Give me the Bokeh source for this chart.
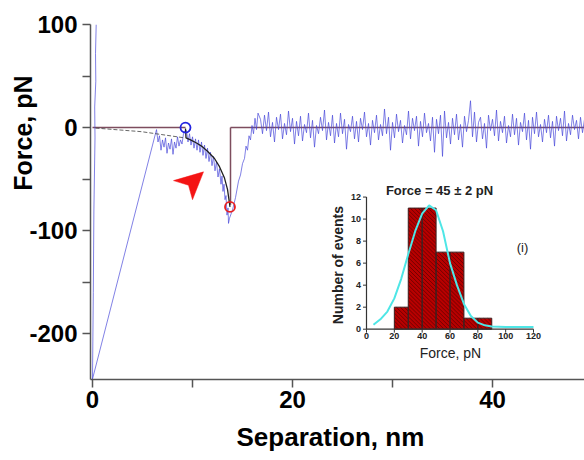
import numpy as np
from bokeh.plotting import figure
from bokeh.models import Range1d, FixedTicker, Label, ColumnDataSource, Title
from bokeh.embed import file_html
from bokeh.resources import INLINE

FONT = "Liberation Sans"

# ---------------- main force curve data (nm, pN) ----------------
approach_x = [0.37, 0.3, 0.33, 0.22, 0.25, 0.14, 0.08, 0.0]
approach_f = [100, 72, 45, 20, -10, -80, -160, -244]

adhesion_x = [6.4, 6.55, 6.7, 6.85, 7.0, 7.15, 7.3, 7.45, 7.6, 7.75, 7.9, 8.05,
              8.2, 8.35, 8.5, 8.65, 8.8, 8.95, 9.1, 9.25]
adhesion_f = [-2, -14, -8, -22, -12, -19, -10, -25, -15, -21, -11, -26,
              -14, -20, -9, -18, -12, -16, -6, -3]

unfold_x = [9.4, 9.55, 9.7, 9.85, 10.0, 10.15, 10.3, 10.45, 10.6, 10.75, 10.9,
            11.05, 11.2, 11.35, 11.5, 11.65, 11.8, 11.95, 12.1, 12.25, 12.4,
            12.55, 12.7, 12.85, 12.95, 13.05, 13.15, 13.25, 13.35, 13.45, 13.55, 13.6]
unfold_f = [-3, -14, -6, -17, -9, -20, -11, -22, -12, -24, -14, -27, -17, -30,
            -20, -33, -24, -37, -28, -42, -33, -48, -40, -55, -47, -62, -55, -70,
            -66, -85, -78, -93]

recover_x = [13.7, 14.0, 14.3, 14.6, 14.8, 15.0, 15.2, 15.35, 15.5, 15.65,
             15.8, 15.95, 16.1, 16.25, 16.4, 16.55]
recover_f = [-88, -80, -68, -52, -46, -35, -30, -18, -22, -8, -12, 2, -6, 9, -2, 14]

retract_start = 16.8
retract_step = 0.2
retract_f = [8, -6, 12, -3, 15, -9, 5, -14, 10, -2,
             13, -11, 4, -7, 16, -4, 9, -16, 6, -8,
             11, -13, 3, -5, 14, -10, 7, -19, 2, -6,
             10, -3, 17, -12, 5, -8, 12, -15, 4, -9,
             14, -6, 8, -21, 3, -4, 11, -11, 6, -14,
             9, -2, 15, -9, 4, -17, 7, -5, 12, -12,
             3, -8, 18, -6, 10, -22, 5, -10, 13, -4,
             7, -15, 2, -7, 16, -11, 9, -3, 11, -18,
             6, -9, 14, -5, 4, -13, 10, -24, 8, -6,
             12, -28, 16, -10, 5, -16, 9, -7, 13, -12,
             3, -19, 11, -4, 7, 26, -9, 15, -14, 5,
             10, -11, 4, -20, 12, -3, 8, -8, 17, -13,
             6, -5, 11, -15, 2, -9, 13, -7, 9, -17,
             5, -4, 14, -12, 7, -21, 10, -6, 15, -9,
             3, -14, 8, -5, 12, -10, 6, -18, 11, -3,
             9, -8, 16, -13, 4, -7, 12, -2, 7, -11,
             10, -5, 8]
retract_x = [round(retract_start + i * retract_step, 2) for i in range(len(retract_f))]

# approach baseline (dashed)
dash_x = [0.3, 4.9, 9.2]
dash_f = [-0.5, -4, -10]

# worm-like-chain fit
fit_x = [9.3, 9.35, 9.8, 10.4, 10.9, 11.5, 12.2, 12.7, 13.2, 13.5, 13.75]
fit_f = [-1, -10, -12, -15, -18, -23, -30, -38, -49, -60, -77]

# baseline / rupture lines
base1_x = [0.0, 9.3]
base2_x = [13.8, 49.2]
rupture_x = 13.8
rupture_f = [0, -75]

start_pt = (9.3, 0)
rupture_pt = (13.75, -77)

# red arrowhead (tip, back corner, notch, back corner)
arrow_x = [11.1, 8.1, 9.6, 10.0]
arrow_f = [-43, -51.5, -56, -70]

# ---------------- inset histogram ----------------
bin_left = [20, 30, 40, 50, 60, 70, 80]
bin_right = [30, 40, 50, 60, 70, 80, 90]
counts = [2, 11, 11, 7, 7, 1, 1]
gauss_x = [5, 10, 15, 20, 25, 30, 35, 40, 45, 50, 55, 60, 65, 70, 75, 80, 85, 90, 100, 110, 120]
gauss_y = [0.4, 0.9, 1.6, 2.8, 4.6, 6.8, 8.9, 10.5, 11.25, 10.8, 8.9, 6.0, 4.0, 2.3,
           1.2, 0.6, 0.35, 0.25, 0.2, 0.2, 0.2]
inset_xticks = [0, 20, 40, 60, 80, 100, 120]
inset_yticks = [0, 2, 4, 6, 8, 10, 12]

main_xticks = [0, 20, 40]
main_xminor = [10, 30]
main_yticks = [-200, -100, 0, 100]
main_yminor = [-150, -50, 50]
main_ylabels = {-200: "-200", -100: "-100", 0: "0", 100: "100"}

# ---------------- figure ----------------
W, H = 584, 460
fx0, fx1 = 90, 584      # frame pixel extents
fy0, fy1 = 24, 384
p = figure(width=W, height=H, output_backend="svg", toolbar_location=None,
           x_range=Range1d(-0.2, 49.2), y_range=Range1d(-244.5, 100),
           min_border_left=fx0, min_border_right=W - fx1, min_border_top=fy0,
           min_border_bottom=H - fy1)
p.outline_line_color = None
p.grid.visible = False
p.background_fill_color = "white"
p.border_fill_color = "white"

# inset placement in pixels -> extra ranges
ix0, ix1 = 366, 533     # inset x=0 and x=120
iy0, iy1 = 333, 199     # inset y=0 and y=12
sx = (ix1 - ix0) / 120.0
sy = (iy0 - iy1) / 12.0
p.extra_x_ranges = {"hx": Range1d((fx0 - ix0) / sx, (fx1 - ix0) / sx)}
p.extra_y_ranges = {"hy": Range1d((iy0 - fy1) / sy, (iy0 - fy0) / sy)}

for ax in (p.xaxis[0], p.yaxis[0]):
    ax.axis_line_color = "#555555"
    ax.axis_line_width = 1.5
    ax.major_tick_line_color = "#555555"
    ax.minor_tick_line_color = "#555555"
    ax.major_tick_line_width = 1.5
    ax.minor_tick_line_width = 1.5
    ax.major_tick_in = 0
    ax.minor_tick_in = 0
    ax.major_tick_out = 8
    ax.minor_tick_out = 8
    ax.major_label_text_font = FONT
    ax.major_label_text_font_style = "bold"
    ax.major_label_text_font_size = "24px"
    ax.major_label_text_color = "black"
p.xaxis.ticker = FixedTicker(ticks=main_xticks, minor_ticks=main_xminor)
p.yaxis.ticker = FixedTicker(ticks=main_yticks, minor_ticks=main_yminor)
p.yaxis.major_label_overrides = main_ylabels
p.xaxis.major_label_standoff = 3
p.yaxis.major_label_standoff = 5

# axis titles as side titles (offset along the axis)
p.add_layout(Title(text="Force, pN", align="right", offset=51, standoff=-20,
                   text_font=FONT, text_font_style="bold", text_font_size="25px",
                   text_color="black"), "left")
p.add_layout(Title(text="Separation, nm", align="left", offset=146, standoff=18,
                   text_font=FONT, text_font_style="bold", text_font_size="26px",
                   text_color="black"), "below")

# main curve
trace_x = approach_x + adhesion_x + unfold_x + recover_x + retract_x
trace_f = approach_f + adhesion_f + unfold_f + recover_f + retract_f
p.line(base1_x, [0, 0], line_color="#7d4d5e", line_width=1.5)
p.line(base2_x, [0, 0], line_color="#7d4d5e", line_width=1.5)
p.line(trace_x, trace_f, line_color="#4444d8", line_width=0.8, line_alpha=0.85)
p.line([rupture_x, rupture_x], rupture_f, line_color="#7d4d5e", line_width=1.5)
p.line(dash_x, dash_f, line_color="#404040", line_width=0.8, line_dash="4 2")
p.line(fit_x, fit_f, line_color="#202020", line_width=1.3)
p.scatter([start_pt[0]], [start_pt[1]], size=10, fill_color=None,
          line_color="#2424e0", line_width=1.8)
p.scatter([rupture_pt[0]], [rupture_pt[1]], size=10, fill_color=None,
          line_color="#e82020", line_width=1.8)
p.patch(arrow_x, arrow_f, fill_color="#f41414", line_color="#f41414", line_width=0.5)

# ---------------- inset drawing ----------------
kw = dict(x_range_name="hx", y_range_name="hy")
src = ColumnDataSource(dict(left=bin_left, right=bin_right, top=counts,
                            bottom=[0] * len(counts)))
p.quad(left="left", right="right", top="top", bottom="bottom", source=src,
       fill_color="#b80000", line_color=None, **kw)

# diagonal hatching derived from each bar's rectangle (screen-space 45 deg)
hx0, hy0, hx1, hy1 = [], [], [], []
spacing = 4.0
for l, r, t in zip(bin_left, bin_right, counts):
    X0, X1 = ix0 + l * sx, ix0 + r * sx
    Yt, Yb = iy0 - t * sy, iy0
    c = Yt - X1
    while c <= Yb - X0:
        xa = max(X0, Yt - c)
        xb = min(X1, Yb - c)
        if xb > xa:
            hx0.append((xa - ix0) / sx); hy0.append((iy0 - (xa + c)) / sy)
            hx1.append((xb - ix0) / sx); hy1.append((iy0 - (xb + c)) / sy)
        c += spacing
p.segment(x0=hx0, y0=hy0, x1=hx1, y1=hy1, line_color="#3a0000", line_alpha=0.55,
          line_width=1, **kw)
p.quad(left="left", right="right", top="top", bottom="bottom", source=src,
       fill_color=None, line_color="#3a2020", line_width=1, **kw)
p.line(gauss_x, gauss_y, line_color="#4ee6e6", line_width=2, **kw)

# inset axis lines
p.line([0, 120], [0, 0], line_color="#333333", line_width=1.2, **kw)
p.line([0, 0], [0, 12], line_color="#333333", line_width=1.2, **kw)
tx_len = 3.5 / sy
ty_len = 3.5 / sx
p.segment(x0=inset_xticks, y0=[0] * len(inset_xticks), x1=inset_xticks,
          y1=[-tx_len] * len(inset_xticks), line_color="#333333", line_width=1, **kw)
p.segment(x0=[0] * len(inset_yticks), y0=inset_yticks, x1=[-ty_len] * len(inset_yticks),
          y1=inset_yticks, line_color="#333333", line_width=1, **kw)
p.text(x=inset_xticks, y=[-4.0 / sy] * len(inset_xticks),
       text=[str(t) for t in inset_xticks], text_align="center", text_baseline="top",
       text_font_size="9px", text_font_style="bold", text_color="#222222",
       text_font={"value": FONT}, **kw)
p.text(x=[-5.5 / sx] * len(inset_yticks), y=inset_yticks,
       text=[str(t) for t in inset_yticks], text_align="right", text_baseline="middle",
       text_font_size="9px", text_font_style="bold", text_color="#222222",
       text_font={"value": FONT}, **kw)

def ilabel(xpx, ypx, text, size, style="bold", angle=0.0):
    p.add_layout(Label(x=(xpx - ix0) / sx, y=(iy0 - ypx) / sy, text=text, angle=angle,
                       text_align="center", text_baseline="middle",
                       text_font=FONT, text_font_style=style,
                       text_font_size=size, text_color="#222222",
                       x_range_name="hx", y_range_name="hy"))

ilabel(439, 192, "Force = 45 \u00b1 2 pN", "13px")
ilabel(337, 268, "Number of events", "14px", angle=np.pi / 2)
ilabel(450, 357, "Force, pN", "14px", style="normal")
ilabel(522, 250, "(i)", "13px", style="normal")

open("out.html", "w").write(file_html(p, INLINE))
